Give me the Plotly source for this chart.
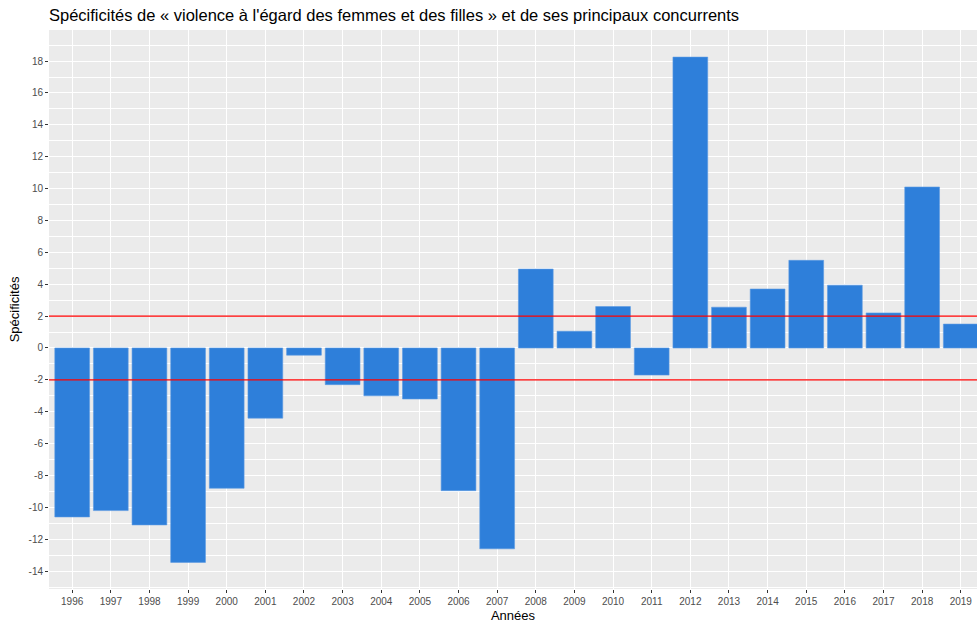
import plotly.graph_objects as go

years = [str(y) for y in range(1996, 2020)]
specificites = [-10.6, -10.2, -11.1, -13.45, -8.8, -4.4, -0.45, -2.3, -3.0, -3.2,
                -8.95, -12.6, 4.95, 1.05, 2.6, -1.7, 18.25, 2.56, 3.7, 5.5,
                3.94, 2.2, 10.1, 1.5]
seuils = [2, -2]
y_ticks = list(range(-14, 19, 2))

fig = go.Figure()
fig.add_trace(go.Bar(
    x=years, y=specificites, width=0.9,
    marker=dict(color="#2E7FDA", line=dict(color="#5D9BE3", width=0.6)),
))
for s in seuils:
    fig.add_shape(type="line", xref="paper", x0=0, x1=1, yref="y", y0=s, y1=s,
                  line=dict(color="#FF0000", width=1.2), layer="above")

fig.update_layout(
    width=977, height=623,
    margin=dict(l=49, r=0, t=30, b=34, autoexpand=False),
    paper_bgcolor="white", plot_bgcolor="#EBEBEB",
    font=dict(family="Liberation Sans, Arial, sans-serif", color="#000000"),
    title=dict(text="Spécificités de « violence à l'égard des femmes et des filles » et de ses principaux concurrents",
               x=49/977, xanchor="left", y=1 - 15/623, yanchor="middle",
               font=dict(size=16.5, color="#000000")),
    showlegend=False,
    bargap=0.1,
)
fig.update_xaxes(
    type="category", range=[-0.6, 23.42],
    showgrid=True, gridcolor="white", gridwidth=1.1,
    ticks="outside", ticklen=3, tickcolor="#333333", tickwidth=1,
    tickfont=dict(size=10, color="#4D4D4D"),
    title=dict(text="Années", font=dict(size=13, color="#000000"), standoff=4),
    zeroline=False, showline=False, automargin=False,
)
fig.update_yaxes(
    range=[-15.12, 19.95], tickvals=y_ticks, ticktext=[str(v) for v in y_ticks],
    showgrid=True, gridcolor="white", gridwidth=1.1,
    minor=dict(dtick=1, tick0=1, showgrid=True, gridcolor="white", gridwidth=0.5),
    ticks="outside", ticklen=3, tickcolor="#333333", tickwidth=1,
    tickfont=dict(size=10, color="#4D4D4D"),
    title=dict(text="Spécificités", font=dict(size=13, color="#000000"), standoff=5),
    zeroline=False, showline=False, automargin=False,
)

fig.write_html("out.html", config={"displayModeBar": False},
               post_script="document.body.style.margin='0';document.body.style.overflow='hidden';")
